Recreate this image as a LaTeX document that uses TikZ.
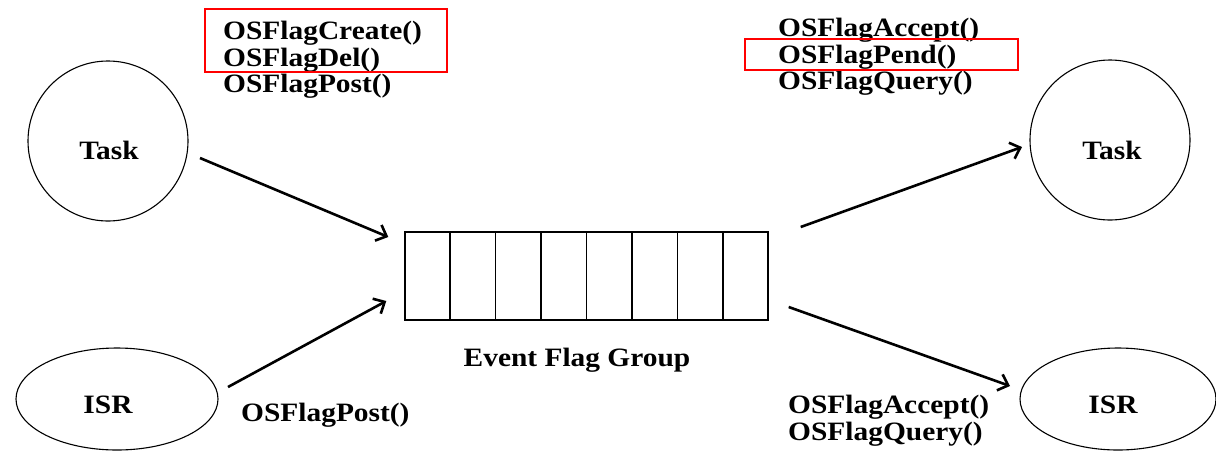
\documentclass[tikz,border=0pt]{standalone}
\usepackage{fontspec}
\setmainfont{Liberation Serif}[FakeStretch=1.11]
\usetikzlibrary{shapes.geometric,arrows.meta,calc}
\begin{document}
\begin{tikzpicture}[x=1pt,y=-1pt,
  lbl/.style={font=\fontsize{26.5}{27}\selectfont\bfseries, inner sep=0pt},
  fn/.style={lbl, anchor=base west},
  caption/.style={lbl, anchor=base},
  tasknode/.style={circle, draw, line width=1.1pt, minimum size=160pt, inner sep=0pt},
  isrnode/.style={ellipse, draw, line width=1.1pt, minimum height=102pt, inner sep=0pt},
  flow/.style={line width=2.6pt, -{Straight Barb[length=9pt,width=17pt]}},
  hilite/.style={draw=red, line width=1.6pt},
  cell/.style={line width=1.4pt}
]
\useasboundingbox (0,0) rectangle (1216,451);
\fill[white] (0,0) rectangle (1216,451);

% producers on the left
\node[tasknode] (taskL) at (108,141) {};
\node[caption] (taskLtxt) at (109,159) {Task};
\node[isrnode, minimum width=202pt] (isrL) at (117,399) {};
\node[caption] (isrLtxt) at (108,413) {ISR};

% consumers on the right
\node[tasknode] (taskR) at (1110,140) {};
\node[caption] (taskRtxt) at (1112,159) {Task};
\node[isrnode, minimum width=196pt] (isrR) at (1118,399) {};
\node[caption] (isrRtxt) at (1113,413) {ISR};

% the event flag group: eight flag cells
\node[draw, cell, minimum width=363pt, minimum height=88pt, inner sep=0pt] (flags) at (586.5,276) {};
\foreach \i in {1,...,7}
  \draw[cell] ($(flags.north west)!\i/8!(flags.north east)$) -- ($(flags.south west)!\i/8!(flags.south east)$);
\node[caption] (flagsname) at (577,366.5) {Event Flag Group};

% service calls
\node[fn] (fCreate) at (223,39.5) {OSFlagCreate()};
\node[fn] (fDel)    at (223,66) {OSFlagDel()};
\node[fn] (fPost)   at (223,92.5) {OSFlagPost()};
\node[fn] (fPostI)  at (241,421.5) {OSFlagPost()};

\node[fn] (fAccept) at (778,36.5) {OSFlagAccept()};
\node[fn] (fPend)   at (778,63) {OSFlagPend()};
\node[fn] (fQuery)  at (778,89.5) {OSFlagQuery()};
\node[fn] (fAcceptI) at (788,413) {OSFlagAccept()};
\node[fn] (fQueryI)  at (788,440) {OSFlagQuery()};

% highlighted calls
\draw[hilite] (205,9) rectangle (447,72);
\draw[hilite] (745,39) rectangle (1018,70);

% arrow end points
\coordinate (taskLout) at ($(taskL.center)+(92,17)$);
\coordinate (flagsinT) at ($(flags.west)+(-16,-39)$);
\coordinate (isrLout)  at ($(isrL.center)+(111,-12)$);
\coordinate (flagsinB) at ($(flags.west)+(-18,25)$);
\coordinate (flagsoutT) at ($(flags.east)+(32,-49)$);
\coordinate (taskRin)  at ($(taskR.center)+(-88,7)$);
\coordinate (flagsoutB) at ($(flags.east)+(20,31)$);
\coordinate (isrRin)   at ($(isrR.center)+(-108,-13)$);

\draw[flow] (taskLout) -- (flagsinT);
\draw[flow] (isrLout) -- (flagsinB);
\draw[flow] (flagsoutT) -- (taskRin);
\draw[flow] (flagsoutB) -- (isrRin);
\end{tikzpicture}
\end{document}
